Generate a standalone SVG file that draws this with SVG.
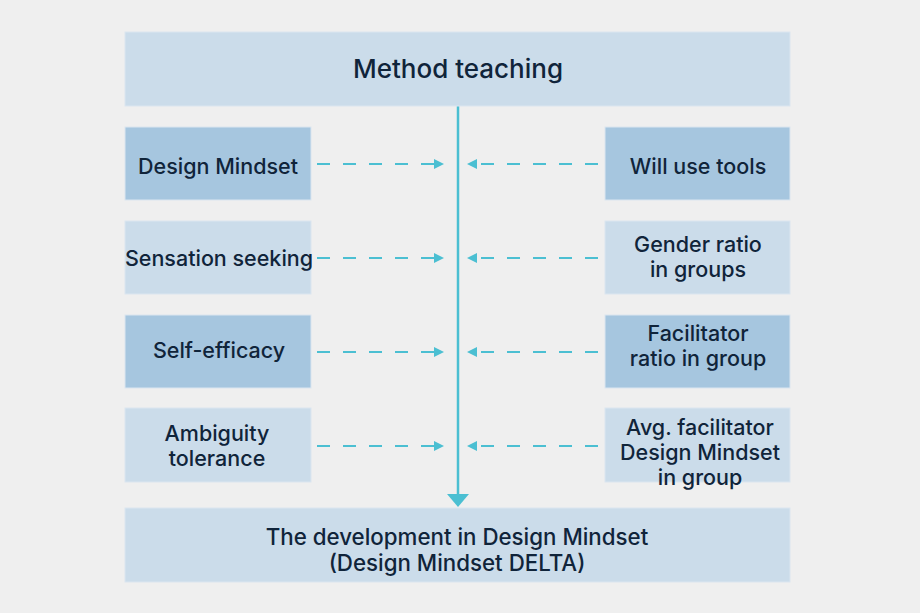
<svg xmlns="http://www.w3.org/2000/svg" width="920" height="613" viewBox="0 0 920 613">
<defs>
<style>
.bg{fill:#efefef}
.box{stroke:#dbe6f0;stroke-width:1}
.light{fill:#cbdcea}
.dark{fill:#a6c6df}
text{font-family:Inter,"Noto Sans","Liberation Sans",sans-serif;fill:#10243a;text-anchor:middle;font-weight:500}
.t{font-size:21.5px}
.big{font-size:26px}
.mid{font-size:22.3px}
.dash{stroke:#4bbfd2;stroke-width:2.2;stroke-dasharray:13 13;fill:none}
.main{stroke:#4bbfd2;stroke-width:2.5;fill:none}
</style>
<marker id="ah" markerWidth="10" markerHeight="10" refX="9" refY="5" orient="auto" markerUnits="userSpaceOnUse">
<path d="M0,0 L10,5 L0,10 Z" fill="#4bbfd2"/>
</marker>
</defs>
<rect class="bg" width="920" height="613"/>
<g id="connectors">
<line class="main" x1="458" y1="106" x2="458" y2="494"/>
<path d="M447,494 L469,494 L458,507 Z" fill="#4bbfd2"/>
<line class="dash" x1="317" y1="164" x2="443" y2="164" marker-end="url(#ah)"/>
<line class="dash" x1="317" y1="258" x2="443" y2="258" marker-end="url(#ah)"/>
<line class="dash" x1="317" y1="352" x2="443" y2="352" marker-end="url(#ah)"/>
<line class="dash" x1="317" y1="446" x2="443" y2="446" marker-end="url(#ah)"/>
<line class="dash" x1="598" y1="164" x2="468" y2="164" marker-end="url(#ah)"/>
<line class="dash" x1="598" y1="258" x2="468" y2="258" marker-end="url(#ah)"/>
<line class="dash" x1="598" y1="352" x2="468" y2="352" marker-end="url(#ah)"/>
<line class="dash" x1="598" y1="446" x2="468" y2="446" marker-end="url(#ah)"/>
</g>
<g id="method-teaching">
<rect class="box light" x="125" y="32" width="665" height="74"/>
<text class="big" x="458" y="78">Method teaching</text>
</g>
<g id="design-mindset">
<rect class="box dark" x="125" y="127" width="186" height="73"/>
<text class="t" x="218" y="174">Design Mindset</text>
</g>
<g id="sensation-seeking">
<rect class="box light" x="125" y="221" width="186" height="73"/>
<text class="t" x="219" y="266">Sensation seeking</text>
</g>
<g id="self-efficacy">
<rect class="box dark" x="125" y="315" width="186" height="73"/>
<text class="t" x="219" y="358">Self-efficacy</text>
</g>
<g id="ambiguity-tolerance">
<rect class="box light" x="125" y="408" width="186" height="74"/>
<text class="t" x="217" y="441">Ambiguity</text>
<text class="t" x="217" y="466">tolerance</text>
</g>
<g id="will-use-tools">
<rect class="box dark" x="605" y="127" width="185" height="73"/>
<text class="t" x="698" y="174">Will use tools</text>
</g>
<g id="gender-ratio">
<rect class="box light" x="605" y="221" width="185" height="73"/>
<text class="t" x="698" y="252">Gender ratio</text>
<text class="t" x="698" y="277">in groups</text>
</g>
<g id="facilitator-ratio">
<rect class="box dark" x="605" y="315" width="185" height="73"/>
<text class="t" x="698" y="341">Facilitator</text>
<text class="t" x="698" y="366">ratio in group</text>
</g>
<g id="avg-facilitator">
<rect class="box light" x="605" y="408" width="185" height="74"/>
<text class="t" x="700" y="435">Avg. facilitator</text>
<text class="t" x="700" y="460">Design Mindset</text>
<text class="t" x="700" y="485">in group</text>
</g>
<g id="development">
<rect class="box light" x="125" y="508" width="665" height="74"/>
<text class="mid" x="457" y="545">The development in Design Mindset</text>
<text class="mid" x="457" y="571">(Design Mindset DELTA)</text>
</g>
</svg>
